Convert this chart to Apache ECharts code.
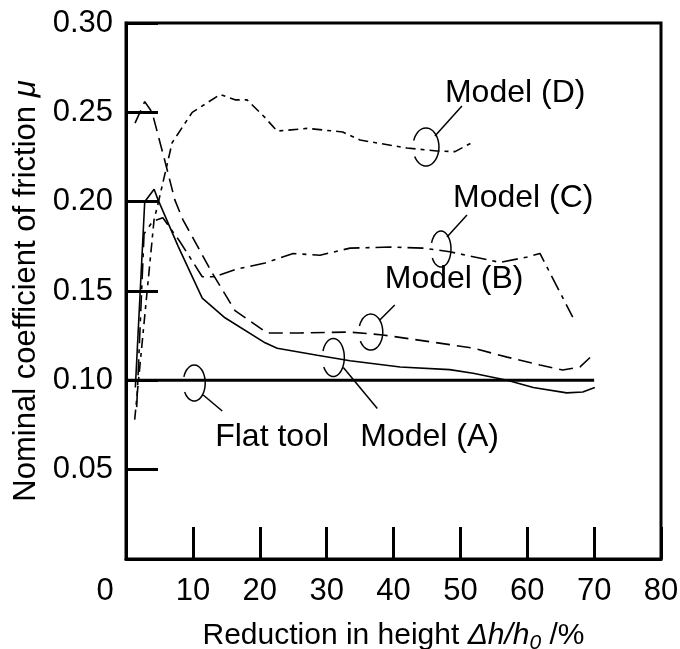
<!DOCTYPE html>
<html>
<head>
<meta charset="utf-8">
<script src="https://cdn.jsdelivr.net/npm/echarts@6/dist/echarts.min.js"></script>
<style>
  html, body { margin: 0; padding: 0; background: #fff; }
  #chart { width: 680px; height: 649px; }
</style>
</head>
<body>
<div id="chart"></div>
<script>
// values: [reduction %, mu]
const xTicks = [0, 10, 20, 30, 40, 50, 60, 70, 80];
const yTicks = [0, 0.05, 0.10, 0.15, 0.20, 0.25, 0.30];

const flatTool = [[0, 0.100], [70, 0.100]];

const modelA = [[1.4, 0.096], [2.8, 0.200], [4.2, 0.207], [4.8, 0.201], [7.8, 0.175], [11.4, 0.146],
  [14.8, 0.135], [20.8, 0.121], [22.6, 0.118], [28.6, 0.114], [33.5, 0.111], [41, 0.1075],
  [48.4, 0.106], [51.9, 0.104], [57, 0.100], [60.9, 0.096], [65.9, 0.093], [68.3, 0.0935], [70.1, 0.096]];

const modelB = [[1.35, 0.244], [2.8, 0.256], [3.9, 0.250], [5.8, 0.223], [7.3, 0.201], [8.5, 0.190],
  [12.9, 0.160], [16.3, 0.139], [21.1, 0.1265], [26, 0.1265], [33.5, 0.127], [38.4, 0.1254],
  [48.4, 0.120], [51.9, 0.118], [57, 0.113], [61.9, 0.1086], [65.3, 0.1058], [67.9, 0.1075], [70.1, 0.1153]];

const modelC = [[1.6, 0.085], [2.7, 0.182], [4, 0.189], [5.5, 0.191], [8, 0.178], [11.4, 0.158],
  [13.3, 0.158], [16.3, 0.162], [20.8, 0.1657], [25, 0.171], [29, 0.170], [33.5, 0.174],
  [39.5, 0.1746], [44.4, 0.174], [48.4, 0.172], [55.9, 0.166], [60, 0.169], [61.9, 0.171], [66.8, 0.1354]];

const modelD = [[1.3, 0.078], [4.2, 0.190], [4.8, 0.199], [6.9, 0.233], [9.9, 0.250], [14.1, 0.260],
  [16.3, 0.257], [18.1, 0.257], [20.8, 0.247], [22.6, 0.2395], [27.1, 0.241], [32.4, 0.239],
  [35, 0.2345], [42, 0.230], [46.5, 0.2284], [49.2, 0.228], [51.9, 0.2334]];

const FONT = '"Liberation Sans", Arial, sans-serif';

const chart = echarts.init(document.getElementById('chart'));

function line(name, data, width, dash) {
  return {
    name: name,
    type: 'line',
    data: data,
    symbol: 'none',
    animation: false,
    lineStyle: { color: '#000', width: width, type: dash || 'solid' }
  };
}

chart.setOption({
  backgroundColor: '#fff',
  animation: false,
  grid: {
    left: 126, right: 19, top: 23, bottom: 90,
    containLabel: false, outerBoundsMode: 'none',
    show: true, borderColor: '#000', borderWidth: 3
  },
  xAxis: {
    type: 'value',
    min: 0, max: 80, interval: 10,
    axisLine: { lineStyle: { color: '#000', width: 3 } },
    axisTick: { inside: true, length: 32, lineStyle: { color: '#000', width: 3 } },
    splitLine: { show: false },
    axisLabel: {
      margin: 17, color: '#000', fontSize: 31, fontFamily: FONT,
      formatter: v => v === 0 ? '{z|0}' : String(v),
      rich: { z: { fontSize: 31, fontFamily: FONT, color: '#000', padding: [0, 42, 0, 0] } }
    },
    name: 'Reduction in height {i|Δh/h}{s|0} /%',
    nameLocation: 'middle',
    nameGap: 58,
    nameTextStyle: {
      color: '#000', fontSize: 30, fontFamily: FONT,
      rich: {
        i: { fontSize: 30, fontFamily: FONT, fontStyle: 'italic', color: '#000' },
        s: { fontSize: 21, fontFamily: FONT, fontStyle: 'italic', color: '#000', padding: [16, 0, 0, 0] }
      }
    }
  },
  yAxis: {
    type: 'value',
    min: 0, max: 0.30, interval: 0.05,
    axisLine: { show: true, lineStyle: { color: '#000', width: 3 } },
    axisTick: { show: true, inside: true, length: 32, lineStyle: { color: '#000', width: 3 } },
    splitLine: { show: false },
    axisLabel: {
      margin: 13, color: '#000', fontSize: 31, fontFamily: FONT,
      formatter: v => v === 0 ? '' : v.toFixed(2)
    },
    name: 'Nominal coefficient of friction {m|μ}',
    nameLocation: 'middle',
    nameGap: 80,
    nameRotate: 90,
    nameTextStyle: {
      color: '#000', fontSize: 31, fontFamily: FONT,
      rich: { m: { fontSize: 31, fontFamily: FONT, fontStyle: 'italic', color: '#000' } }
    }
  },
  series: [
    line('Flat tool', flatTool, 3),
    line('Model (A)', modelA, 1.6),
    line('Model (B)', modelB, 1.6, [14, 7]),
    line('Model (C)', modelC, 1.6, [16, 6, 4, 6]),
    line('Model (D)', modelD, 1.6, [10, 5, 4, 5])
  ]
});

// labels with loop + leader, anchored on the curves in data coords
const notes = [
  { text: 'Flat tool', at: [10.2, 0.0985], rx: 11, ry: 18, lead: [[9, 12], [28, 28]], label: [21, 54] },
  { text: 'Model (A)', at: [31, 0.1128], rx: 11, ry: 19, lead: [[10, 10], [44, 51]], label: [27, 80] },
  { text: 'Model (B)', at: [36.6, 0.127], rx: 12, ry: 18, lead: [[9, -12], [24, -27]], label: [14, -53] },
  { text: 'Model (C)', at: [47.1, 0.1735], rx: 10, ry: 18, lead: [[6, -12], [26, -34]], label: [12, -51] },
  { text: 'Model (D)', at: [44.85, 0.2306], rx: 13, ry: 19, lead: [[9, -11], [36, -41]], label: [19, -54] }
];

const graphics = [];
notes.forEach(n => {
  const p = chart.convertToPixel({ gridIndex: 0 }, n.at);
  const pts = [];
  for (let a = 200; a <= 510; a += 10) {
    const r = a * Math.PI / 180;
    pts.push([p[0] + n.rx * Math.cos(r), p[1] + n.ry * Math.sin(r)]);
  }
  graphics.push({
    type: 'polyline', shape: { points: pts, smooth: 0.3 },
    style: { stroke: '#000', lineWidth: 1.5, fill: null }
  });
  graphics.push({
    type: 'line',
    shape: { x1: p[0] + n.lead[0][0], y1: p[1] + n.lead[0][1], x2: p[0] + n.lead[1][0], y2: p[1] + n.lead[1][1] },
    style: { stroke: '#000', lineWidth: 1.5 }
  });
  graphics.push({
    type: 'text',
    x: p[0] + n.label[0], y: p[1] + n.label[1],
    style: { text: n.text, fill: '#000', font: '32px ' + FONT, textAlign: 'left', textVerticalAlign: 'middle' }
  });
});
chart.setOption({ graphic: graphics });
</script>
</body>
</html>
